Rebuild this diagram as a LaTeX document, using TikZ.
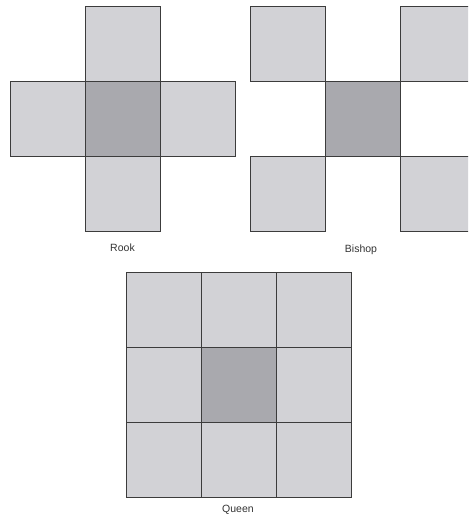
\documentclass[tikz,border=0pt]{standalone}
\usepackage{fontspec}
\setmainfont{Liberation Sans}
\definecolor{cellfill}{HTML}{D2D2D6}
\definecolor{centerfill}{HTML}{A9A9AE}
\definecolor{cellline}{HTML}{3C3C3C}
\definecolor{labeltext}{HTML}{333333}
\tikzset{
  cell/.style={draw=cellline, fill=cellfill, line width=0.9pt, minimum size=75pt, inner sep=0pt, outer sep=0pt},
  centre/.style={cell, fill=centerfill},
  lbl/.style={font=\fontsize{10.5}{12}\selectfont, text=labeltext, inner sep=0pt}
}
\begin{document}
\begin{tikzpicture}[x=1pt,y=-1pt]
\useasboundingbox (0,0) rectangle (468,524);
\clip (0,0) rectangle (468,524);
% Rook
\node[cell] (rT) at (122.5,43.5) {};
\node[cell] (rL) at (47.5,118.5) {};
\node[cell] (rR) at (197.5,118.5) {};
\node[cell] (rB) at (122.5,193.5) {};
\node[centre] (rC) at (122.5,118.5) {};
\node[lbl] (rook) at (122.5,248) {Rook};
% Bishop
\node[cell] (bTL) at (287.5,43.5) {};
\node[cell] (bTR) at (437.5,43.5) {};
\node[cell] (bBL) at (287.5,193.5) {};
\node[cell] (bBR) at (437.5,193.5) {};
\node[centre] (bC) at (362.5,118.5) {};
\node[lbl] (bishop) at (361,250) {Bishop};
% Queen
\foreach \i in {0,1,2}{
  \foreach \j in {0,1,2}{
    \node[cell] (q\i\j) at (163.5+75*\i,309.5+75*\j) {};
  }
}
\node[centre] (q11) at (238.5,384.5) {};
\node[lbl] (queen) at (238,510) {Queen};
\end{tikzpicture}
\end{document}
